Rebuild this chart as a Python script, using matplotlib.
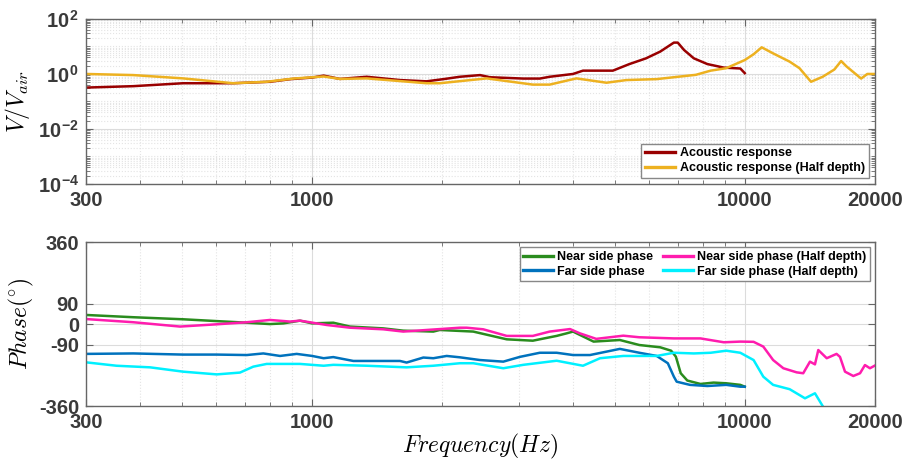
import numpy as np
import matplotlib
matplotlib.use('Agg')
import matplotlib.pyplot as plt
from matplotlib.ticker import LogLocator, NullFormatter, FixedLocator, FixedFormatter

plt.rcParams['mathtext.fontset'] = 'custom'
plt.rcParams['mathtext.it'] = 'cmmi10'
plt.rcParams['mathtext.rm'] = 'cmr10'
plt.rcParams['mathtext.bf'] = 'Liberation Sans:bold'
plt.rcParams['mathtext.fallback'] = 'cm'
plt.rcParams['axes.unicode_minus'] = False

# ---- acoustic response (V/Vair)
f_ac = [300, 386, 503, 657, 799, 892, 1000, 1063, 1159, 1337, 1596, 1838, 2013, 2195,
        2444, 2576, 3077, 3359, 3540, 4009, 4227, 4536, 4956, 5412, 5913, 6376, 6857,
        7000, 7241, 7626, 8194, 8945, 9766, 10000]
v_ac = [0.32, 0.36, 0.46, 0.46, 0.52, 0.65, 0.74, 0.87, 0.66, 0.79, 0.60, 0.54, 0.65, 0.79,
        0.91, 0.76, 0.68, 0.68, 0.79, 1.0, 1.32, 1.32, 1.32, 2.29, 3.7, 6.5, 13.8,
        13.8, 7.4, 3.7, 2.29, 1.70, 1.58, 1.07]

f_ac_half = [300, 386, 503, 657, 785, 905, 1063, 1159, 1337, 1838, 1972, 2532, 2817,
             3237, 3540, 4082, 4790, 5327, 6258, 7112, 7708, 8341, 9060, 10000, 10481,
             10942, 11630, 12700, 13380, 14230, 15140, 16110, 16700, 17200, 18580,
             19200, 20000]
v_ac_half = [1.0, 0.91, 0.69, 0.46, 0.52, 0.68, 0.81, 0.66, 0.69, 0.46, 0.46, 0.69, 0.55,
             0.41, 0.41, 0.69, 0.48, 0.60, 0.65, 0.81, 0.93, 1.32, 1.62, 3.2, 5.2,
             9.3, 5.6, 2.8, 1.62, 0.52, 0.79, 1.45, 2.95, 1.86, 0.68,
             1.0, 1.0]

# ---- phase (deg)
f_near = [300, 386, 503, 602, 706, 799, 858, 937, 1000, 1119, 1223, 1460, 1624, 1906,
          1972, 2357, 2817, 3237, 3674, 3870, 4009, 4472, 5143, 5705, 6376, 6758, 6930,
          7112, 7366, 7900, 8470, 9060, 9766, 10000]
p_near = [41, 31, 22, 14, 7, 1, 4, 16, 4, 7, -10, -18, -28, -32,
          -25, -32, -66, -72, -51, -40, -32, -76, -69, -91, -101, -116, -142,
          -215, -247, -262, -256, -259, -266, -274]

f_far = [300, 386, 503, 602, 706, 771, 843, 921, 1000, 1063, 1119, 1245, 1409, 1596,
         1653, 1807, 1906, 2046, 2195, 2444, 2766, 3022, 3359, 3674, 4009, 4387,
         5143, 5705, 6258, 6640, 6857, 6960, 7470, 8194, 9060, 9766, 10000]
p_far = [-130, -128, -133, -133, -135, -128, -139, -130, -139, -149, -144, -161, -161, -161,
         -168, -146, -149, -139, -145, -157, -164, -143, -125, -125, -135, -135,
         -108, -125, -139, -171, -230, -252, -266, -271, -266, -274, -274]

f_near_half = [300, 386, 495, 602, 706, 799, 889, 937, 1080, 1223, 1460, 1624, 1838, 2195,
               2276, 2486, 2817, 3237, 3540, 3945, 4161, 4536, 5239, 5705, 6857, 7900,
               8945, 9766, 10481, 11037, 11630, 12280, 13180, 13650, 14150, 14530,
               14790, 15470, 16300, 16600, 17050, 17820, 18470, 18960, 19470, 20000]
p_near_half = [23, 9, -10, 0, 9, 19, 12, 16, -3, -15, -22, -32, -25, -15,
               -15, -22, -51, -51, -32, -21, -40, -64, -50, -57, -62, -62,
               -79, -76, -77, -98, -157, -193, -211, -215, -164, -176,
               -113, -149, -130, -143, -208, -227, -215, -179, -193, -181]

f_far_half = [300, 353, 422, 503, 602, 681, 731, 785, 937, 1063, 1119, 1337, 1653, 1906,
              2195, 2357, 2766, 3077, 3674, 4227, 4629, 5239, 6258, 6857, 7626, 8341,
              9060, 9766, 10481, 11037, 11630, 12700, 13780, 14530, 15140, 15600]
p_far_half = [-167, -182, -189, -208, -220, -212, -186, -174, -174, -182, -178, -182, -189, -182,
              -171, -171, -193, -178, -160, -182, -149, -139, -139, -125, -128, -125,
              -116, -125, -157, -230, -266, -285, -325, -303, -359, -400]

xticks = [300, 1000, 10000, 20000]
phase_ticks = [-360, -90, 0, 90, 360]
tick_col = '#3a3a3a'
edge_col = '#666666'


def style_axes(ax):
    ax.set_xscale('log')
    ax.set_xlim(300, 20000)
    ax.xaxis.set_major_locator(FixedLocator(xticks))
    ax.xaxis.set_major_formatter(FixedFormatter([str(t) for t in xticks]))
    ax.xaxis.set_minor_locator(LogLocator(base=10, subs=np.arange(2, 10), numticks=20))
    ax.xaxis.set_minor_formatter(NullFormatter())
    ax.tick_params(which='both', direction='in', top=True, right=True, colors=edge_col,
                   labelcolor=tick_col, labelsize=14.5, pad=5)
    ax.tick_params(which='major', length=5)
    ax.tick_params(which='minor', length=3)
    for lab in ax.get_xticklabels() + ax.get_yticklabels():
        lab.set_fontweight('bold')
        lab.set_family('Liberation Sans')
    for s in ax.spines.values():
        s.set_color(edge_col)
        s.set_linewidth(1.0)
    ax.grid(which='major', color='#dcdcdc', linestyle='-', linewidth=0.8)
    ax.set_axisbelow(True)


def style_legend(leg):
    leg.get_frame().set_edgecolor('#888888')
    leg.get_frame().set_alpha(1)
    for t in leg.get_texts():
        t.set_fontweight('bold')
        t.set_family('Liberation Sans')
    for h in leg.legend_handles:
        h.set_linewidth(2.4)


fig = plt.figure(figsize=(9.04, 4.61), dpi=100)
ax1 = fig.add_axes([0.0951, 0.6009, 0.8728, 0.358])
ax2 = fig.add_axes([0.0951, 0.1187, 0.8728, 0.3557])

# top: magnitude
ax1.plot(f_ac, v_ac, color='#990000', lw=1.8, label='Acoustic response')
ax1.plot(f_ac_half, v_ac_half, color='#EDB120', lw=1.8, label='Acoustic response (Half depth)')
ax1.set_yscale('log')
ax1.set_ylim(1e-4, 1e2)
ax1.yaxis.set_major_locator(FixedLocator([1e-4, 1e-2, 1e0, 1e2]))
ax1.yaxis.set_major_formatter(FixedFormatter(['10$^{\\mathbf{-4}}$', '10$^{\\mathbf{-2}}$',
                                              '10$^{\\mathbf{0}}$', '10$^{\\mathbf{2}}$']))
ax1.yaxis.set_minor_locator(LogLocator(base=10, subs=np.arange(1, 10), numticks=20))
ax1.yaxis.set_minor_formatter(NullFormatter())
style_axes(ax1)
ax1.grid(which='minor', color='#e4e4e4', linestyle=':', linewidth=0.8)
ax1.set_ylabel('$V/V_{air}$', fontsize=17, labelpad=4)
leg1 = ax1.legend(loc='lower right', fontsize=9, frameon=True, fancybox=False,
                  handlelength=2.4, borderaxespad=0.5, borderpad=0.3, labelspacing=0.2,
                  handletextpad=0.4)
style_legend(leg1)

# bottom: phase
l1, = ax2.plot(f_near, p_near, color='#2A8C1E', lw=1.8, label='Near side phase')
l2, = ax2.plot(f_far, p_far, color='#0072BD', lw=1.8, label='Far side phase')
l3, = ax2.plot(f_near_half, p_near_half, color='#FF1CAE', lw=1.8,
               label='Near side phase (Half depth)')
l4, = ax2.plot(f_far_half, p_far_half, color='#00F0FF', lw=1.8,
               label='Far side phase (Half depth)')
ax2.set_ylim(-360, 360)
ax2.yaxis.set_major_locator(FixedLocator(phase_ticks))
ax2.yaxis.set_major_formatter(FixedFormatter([str(t) for t in phase_ticks]))
style_axes(ax2)
ax2.grid(which='minor', axis='x', color='#e4e4e4', linestyle=':', linewidth=0.8)
ax2.set_ylabel('$Phase(^{\\circ})$', fontsize=17, labelpad=2)
ax2.set_xlabel('$Frequency(Hz)$', fontsize=17, labelpad=0)
leg2 = ax2.legend(handles=[l1, l2, l3, l4], ncol=2, loc='upper right', fontsize=9,
                  frameon=True, fancybox=False, handlelength=2.4, borderaxespad=0.4,
                  borderpad=0.3, labelspacing=0.2, handletextpad=0.3, columnspacing=0.8)
style_legend(leg2)

fig.savefig('out.png', dpi=100)
